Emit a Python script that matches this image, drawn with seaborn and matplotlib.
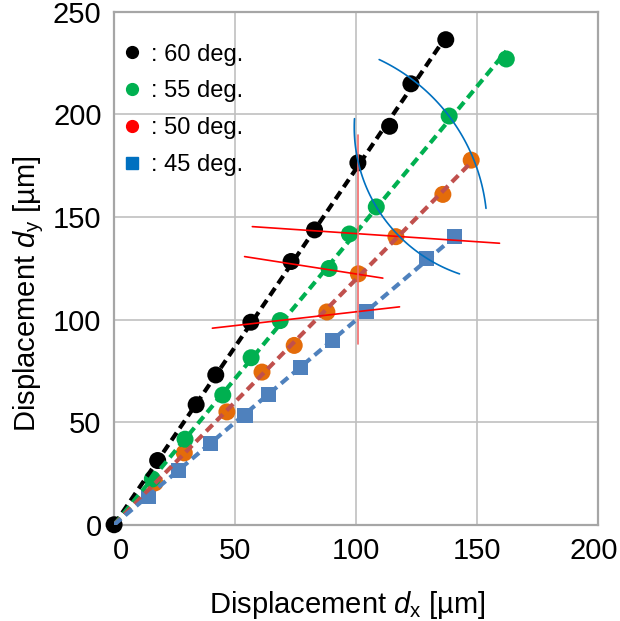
import matplotlib
matplotlib.use("Agg")
import matplotlib.pyplot as plt
import matplotlib.transforms as mtransforms
from matplotlib.lines import Line2D
import seaborn as sns
import numpy as np

# measured points, one list pair per angle
x60 = [0, 18.0, 33.9, 42.0, 56.5, 73.1, 82.8, 100.7, 113.8, 122.6, 137.0]
y60 = [0, 31.3, 58.5, 73.0, 98.7, 128.3, 143.7, 176.4, 194.2, 214.9, 236.4]
x55 = [15.8, 29.3, 44.9, 56.6, 68.6, 88.8, 97.2, 108.3, 138.4, 162.0]
y55 = [22.3, 41.7, 63.2, 81.4, 99.5, 124.9, 141.7, 154.9, 199.2, 227.0]
x50 = [16.9, 29.0, 46.6, 61.1, 74.4, 87.9, 100.9, 116.4, 135.8, 147.5]
y50 = [20.4, 35.0, 55.0, 74.4, 87.4, 103.7, 122.3, 140.4, 161.0, 177.7]
x45 = [14.2, 26.6, 39.7, 54.1, 63.8, 76.9, 90.2, 104.3, 129.2, 140.5]
y45 = [13.9, 26.4, 39.7, 53.4, 63.3, 76.6, 89.8, 104.0, 129.6, 140.4]

labels = [': 60 deg.', ': 55 deg.', ': 50 deg.', ': 45 deg.']
ticks = [0, 50, 100, 150, 200, 250]

# hand drawn guide lines (data units)
red_x = [[57.1, 159.2], [53.9, 111.0], [40.6, 117.9]]
red_y = [[145.3, 137.2], [130.7, 120.2], [95.8, 106.2]]
vline_x = 100.7
vline_y = [88.0, 190.1]
# arcs: centre, radii, start/end angle (deg)
arcs = [(76.2, 144.0, 77.9, 91.5, 6.4, 64.7),
        (163.5, 193.7, 64.3, 75.5, 176.8, 251.1)]


def set_style():
	sns.set_style("white")
	plt.rcParams.update({
		"font.family": ["Liberation Sans", "DejaVu Sans"],
		"mathtext.fontset": "custom",
		"mathtext.rm": "Liberation Sans",
		"mathtext.it": "Liberation Sans:italic",
		"text.color": "black",
		"axes.labelcolor": "black",
		"xtick.color": "black",
		"ytick.color": "black",
		"xtick.labelsize": 21,
		"ytick.labelsize": 21,
		"axes.labelsize": 21,
	})


def fit_line(xs, ys, color, ax):
	xs = np.array(xs)
	ys = np.array(ys)
	slope = np.sum(xs * ys) / np.sum(xs * xs)
	xe = np.array([0, xs.max()])
	sns.lineplot(x=xe, y=slope * xe, color=color, lw=3.0, ax=ax,
				 linestyle=(0, (2.2, 1.3)), dash_capstyle='butt', zorder=4)


def nudge(label, dx_px, fig):
	label.set_transform(label.get_transform() + mtransforms.ScaledTranslation(dx_px / 100, 0, fig.dpi_scale_trans))


if __name__ == '__main__':
	set_style()
	fig, ax = plt.subplots(figsize=(6.2, 6.21), dpi=100)
	fig.subplots_adjust(left=0.184, right=0.965, bottom=0.155, top=0.981)

	series = [
		(x60, y60, 'black', 'o', 'black'),
		(x55, y55, '#00B050', 'o', '#00B050'),
		(x50, y50, '#E46C0A', 'o', '#C0504D'),
		(x45, y45, '#4F81BD', 's', '#4F81BD'),
	]
	for i, (xs, ys, c, m, lc) in enumerate(series):
		sns.scatterplot(x=xs, y=ys, color=c, marker=m, s=150 if m == 'o' else 120,
						edgecolor='none', ax=ax, zorder=3 + (3 - i) * 0.1, clip_on=False)
	for xs, ys, c, m, lc in series:
		fit_line(xs, ys, lc, ax)

	for xs, ys in zip(red_x, red_y):
		ax.plot(xs, ys, color='#FF0000', lw=1.2, zorder=5)
	ax.plot([vline_x, vline_x], vline_y, color='#F26B6B', lw=1.2, zorder=5)
	for cx, cy, rx, ry, t1, t2 in arcs:
		t = np.radians(np.linspace(t1, t2, 100))
		ax.plot(cx + rx * np.cos(t), cy + ry * np.sin(t), color='#0070C0', lw=1.2, zorder=5)

	ax.set_xlim(0, 200)
	ax.set_ylim(0, 250)
	ax.set_xticks(ticks[:-1])
	ax.set_yticks(ticks)
	ax.grid(True, color='#C0C0C0', lw=1.2)
	ax.tick_params(length=0, pad=9)
	for sp in ax.spines.values():
		sp.set_color('#A6A6A6')
		sp.set_linewidth(1.6)

	# end labels sit a little inward, as in the original
	xlabels = ax.get_xticklabels()
	nudge(xlabels[0], 7, fig)
	nudge(xlabels[-1], -5, fig)

	ax.set_xlabel('Displacement $d_\\mathrm{x}$ [µm]')
	ax.set_ylabel('Displacement $d_\\mathrm{y}$ [µm]')
	ax.xaxis.set_label_coords(0.483, -0.125)
	ax.yaxis.set_label_coords(-0.14, 0.45)

	handles = [
		Line2D([], [], marker='o', color='black', ls='none', markersize=8.5),
		Line2D([], [], marker='o', color='#00B050', ls='none', markersize=8.5),
		Line2D([], [], marker='o', color='#FF0000', ls='none', markersize=8.5),
		Line2D([], [], marker='s', color='#0070C0', ls='none', markersize=8),
	]
	ax.legend(handles, labels, loc='upper left', bbox_to_anchor=(-0.0165, 0.975),
			  frameon=False, fontsize=17, handlelength=0.6, handletextpad=0.5,
			  labelspacing=0.63, borderpad=0.3)

	plt.savefig('out.png')
